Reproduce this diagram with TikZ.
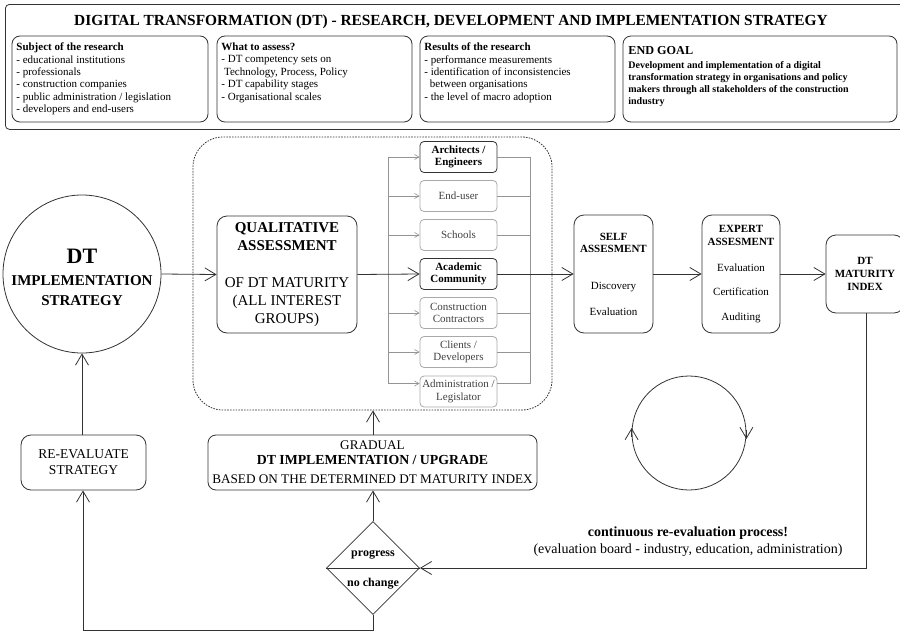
\documentclass[tikz,border=0pt]{standalone}
\usepackage{fontspec}
\setmainfont{Liberation Serif}
\usetikzlibrary{arrows.meta,shapes.geometric,calc}
\newcommand\fsz[2]{\fontsize{#1}{#2}\selectfont}
\definecolor{ln}{gray}{0.2}
\definecolor{lg}{gray}{0.58}
\definecolor{tg}{gray}{0.25}
\begin{document}
\begin{tikzpicture}[x=1pt,y=-1pt,line width=0.8pt,
  hbox/.style={draw=ln,rounded corners=8pt,inner sep=0pt},
  box/.style={draw=ln,rounded corners=10pt,align=center,inner sep=0pt},
  grp/.style={draw=lg!80,rounded corners=4pt,minimum width=77pt,minimum height=31pt,
    inner sep=0pt,align=center,text=tg,font=\fsz{11}{12.6}},
  grpb/.style={grp,draw=ln,text=black,font=\bfseries\fsz{11}{12}},
  arr/.style={draw=ln,-{Straight Barb[length=11pt,width=13pt]}},
  garr/.style={draw=lg,line width=0.6pt,-{Straight Barb[length=4.5pt,width=5pt]}},
  gline/.style={draw=lg,line width=0.6pt},
  txt/.style={inner sep=0pt}]
\useasboundingbox (0,0) rectangle (900,632);

% ---------- header ----------
\node[draw=ln,rounded corners=4pt,minimum width=910pt,minimum height=125pt,anchor=north west,inner sep=0pt] (hdr) at (5,4) {};
\node[txt,anchor=base,font=\bfseries\fsz{15.4}{18}] (title) at (451,25)
  {DIGITAL TRANSFORMATION (DT) - RESEARCH, DEVELOPMENT AND IMPLEMENTATION STRATEGY};

\node[hbox,minimum width=196pt,minimum height=86pt] (s1) at (110,79) {};
\node[hbox,minimum width=195pt,minimum height=86pt] (s2) at (314.5,79) {};
\node[hbox,minimum width=195pt,minimum height=86pt] (s3) at (517.5,79) {};
\node[hbox,minimum width=274pt,minimum height=86pt] (s4) at (760,79) {};

\node[txt,anchor=north west,align=left,font=\fsz{11}{12.4}] (t1) at (16,42.5)
  {\textbf{Subject of the research}\\- educational institutions\\- professionals\\- construction companies\\- public administration / legislation\\- developers and end-users};
\node[txt,anchor=north west,align=left,font=\fsz{11}{12.4}] (t2) at (221,42.5)
  {\textbf{What to assess?}\\- DT competency sets on\\\ Technology, Process, Policy\\- DT capability stages\\- Organisational scales};
\node[txt,anchor=north west,align=left,font=\fsz{11}{12.4}] (t3) at (424,42.5)
  {\textbf{Results of the research}\\- performance measurements\\- identification of inconsistencies\\\ \ between organisations\\- the level of macro adoption};
\node[txt,anchor=base west,font=\bfseries\fsz{12.2}{14}] (t4a) at (628,54.5) {END GOAL};
\node[txt,anchor=north west,align=left,font=\bfseries\fsz{10}{11.8}] (t4) at (628,61.5)
  {Development and implementation of a digital\\transformation strategy in organisations and policy\\makers through all stakeholders of the construction\\industry};

% ---------- main ----------
\node[draw=ln,dashed,dash pattern=on 1.6pt off 1.2pt,rounded corners=30pt,minimum width=359pt,minimum height=273pt,inner sep=0pt] (dash) at (372.5,273.5) {};

\node[draw=ln,circle,minimum size=158pt,inner sep=0pt] (circ) at (82,274) {};
\node[txt,anchor=base,font=\bfseries\fsz{22}{24}] (dtA) at (82,263) {DT};
\node[txt,anchor=base,font=\bfseries\fsz{15}{18}] (dtB) at (82,285) {IMPLEMENTATION};
\node[txt,anchor=base,font=\bfseries\fsz{15}{18}] (dtC) at (82,305.5) {STRATEGY};

\node[box,minimum width=140pt,minimum height=117pt,font=\fsz{15}{18}] (qual) at (287,274.5)
  {\textbf{QUALITATIVE}\\\textbf{ASSESSMENT}\\[19pt]OF DT MATURITY\\(ALL INTEREST\\GROUPS)};

\node[grpb] (g1) at (458.5,157) {Architects /\\Engineers};
\node[grp]  (g2) at (458.5,196) {End-user};
\node[grp]  (g3) at (458.5,235) {Schools};
\node[grpb] (g4) at (458.5,274) {Academic\\Community};
\node[grp]  (g5) at (458.5,313) {Construction\\Contractors};
\node[grp]  (g6) at (458.5,352) {Clients /\\Developers};
\node[grp]  (g7) at (458.5,391.5) {Administration /\\Legislator};

\coordinate (bl1) at (388,157);
\coordinate (bl7) at (388,383.5);
\coordinate (br1) at (530,157);
\coordinate (br7) at (530,383.5);
\draw[gline] (bl1) -- (bl7);
\draw[gline] (br1) -- (br7);
\foreach \g in {g1,g2,g3,g5,g6}{
  \draw[garr] (bl1 |- \g.west) -- (\g.west);
  \draw[gline] (\g.east) -- (br1 |- \g.east);
}
\draw[garr] (bl7) -- (g7.west |- bl7);
\draw[gline] (g7.east |- br7) -- (br7);

\node[box,minimum width=79pt,minimum height=118pt,font=\fsz{11}{12}] (self) at (613.5,274)
  {\textbf{SELF}\\\textbf{ASSESMENT}\\[25.5pt]Discovery\\[13.5pt]Evaluation};
\node[box,minimum width=78pt,minimum height=118pt,font=\fsz{11}{13}] (expert) at (741,274)
  {\textbf{EXPERT}\\\textbf{ASSESMENT}\\[13pt]Evaluation\\[11pt]Certification\\[12pt]Auditing};
\node[box,minimum width=78pt,minimum height=78pt,font=\bfseries\fsz{11}{13}] (idx) at (865,274)
  {DT\\MATURITY\\INDEX};

\draw[arr] (circ.east) -- (qual.west);
\draw[arr] (qual.east) -- (g4.west);
\draw[arr] (g4.east) -- (self.west);
\draw[arr] (self.east) -- (expert.west);
\draw[arr] (expert.east) -- (idx.west);

% ---------- lower part ----------
\node[box,minimum width=125pt,minimum height=55pt,font=\fsz{13.5}{16}] (re) at (83.5,462.5)
  {RE-EVALUATE\\STRATEGY};
\node[box,minimum width=329pt,minimum height=55pt,rounded corners=8pt,font=\fsz{13.2}{15.3}] (grad) at (372.5,462.5)
  {GRADUAL\\\textbf{\fsz{13.8}{15.3}DT IMPLEMENTATION / UPGRADE}\\[3.7pt]BASED ON THE DETERMINED DT MATURITY INDEX};
\node[draw=ln,diamond,minimum width=93pt,minimum height=93pt,inner sep=0pt] (dia) at (373,568) {};
\draw[ln] (dia.west) -- (dia.east);
\node[txt,anchor=base,font=\bfseries\fsz{12}{14}] (prog) at (373,556.5) {progress};
\node[txt,anchor=base,font=\bfseries\fsz{12}{14}] (noch) at (373,586.5) {no change};

\coordinate (bl) at (373,630);
\coordinate (bll) at (83,630);
\coordinate (ir) at (866,568);

\draw[arr] (re.north -| circ.south) -- (circ.south);
\draw[arr] (dia.south) -- (bl) -- (bll) -- (re.south -| bll);
\draw[arr] (dia.north) -- (grad.south -| dia.north);
\draw[arr] (grad.north -| dia.north) -- (dash.south -| dia.north);
\draw[arr] (idx.south -| ir) -- (ir) -- (dia.east);

% cycle
\node[draw=ln,circle,minimum size=114pt,inner sep=0pt] (cyc) at (689,433) {};
\draw[arr] ($(cyc.west)+(0,4)$) -- ($(cyc.west)+(0,-5)$);
\draw[arr] ($(cyc.east)+(0,-3)$) -- ($(cyc.east)+(0,6)$);

\node[txt,anchor=base,font=\bfseries\fsz{14}{17.5}] (cont) at (688,536) {continuous re-evaluation process!};
\node[txt,anchor=base,font=\fsz{14}{17.5}] (board) at (688,553.5) {(evaluation board - industry, education, administration)};
\end{tikzpicture}
\end{document}
